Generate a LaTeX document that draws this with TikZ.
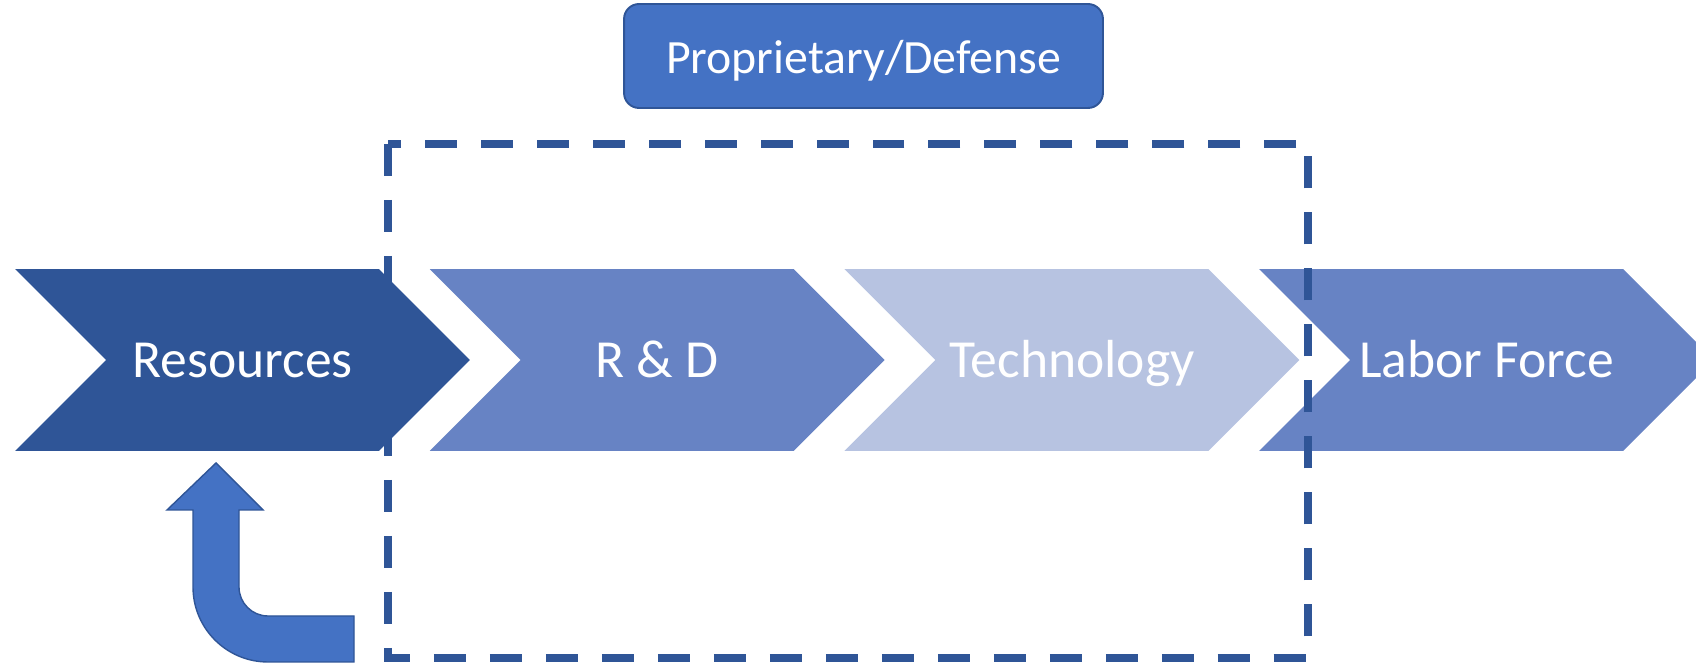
\documentclass[tikz,border=0pt]{standalone}
\usepackage{fontspec}
\setmainfont{Carlito}
\usepackage{tikz}
\usetikzlibrary{positioning}
\usetikzlibrary{shapes.symbols}
\definecolor{darkblue}{HTML}{2F5597}
\definecolor{midblue}{HTML}{6783C4}
\definecolor{paleblue}{HTML}{B7C3E1}
\definecolor{boxblue}{HTML}{4472C4}
\tikzset{%
  every chevron/.style={
    signal,
    signal to=east,
    signal from=west,
    signal pointer angle=90,
    minimum width=9.1cm,
    minimum height=3.64cm,
    inner sep=0pt,
    text height=22pt,
    text depth=2.5pt,
    text=white,
    font=\fontsize{30.5}{36}\selectfont
  },
  label box/.style={
    draw=darkblue,
    fill=boxblue,
    line width=1.1pt,
    rounded corners=0.3cm,
    minimum width=9.58cm,
    minimum height=2.08cm,
    text height=22pt,
    text depth=1.6pt,
    text=white,
    font=\fontsize{27.2}{32}\selectfont
  },
}

\begin{document}
\begin{tikzpicture}[x=0.02cm, y=0.02cm]
\useasboundingbox (0,0) rectangle (1696,665);
\clip (0,0) rectangle (1696,665);
    \foreach \name/\txt/\col [count=\i from 0] in {resources/Resources/darkblue, rnd/R \& D/midblue, technology/Technology/paleblue, labor/Labor Force/midblue}
        \node[every chevron, fill=\col] (\name) at (242.5+414.7*\i,305) {\txt};

    \node[label box] (prop) at (863.5,609) {Proprietary/Defense};

    \draw[darkblue, line width=4.5pt, dash pattern=on 0.64cm off 0.48cm] (388,521) -- (388,7) -- (1308,7) -- (1308,521) -- cycle;

    \filldraw[fill=boxblue, draw=darkblue, line width=0.8pt] (216,202) -- (263,155) -- (239,155) -- (239,78) arc[start angle=180, end angle=270, radius=29] -- (354,49) -- (354,3) -- (268,3) arc[start angle=270, end angle=180, radius=75] -- (193,155) -- (167,155) -- cycle;
\end{tikzpicture}
\end{document}
